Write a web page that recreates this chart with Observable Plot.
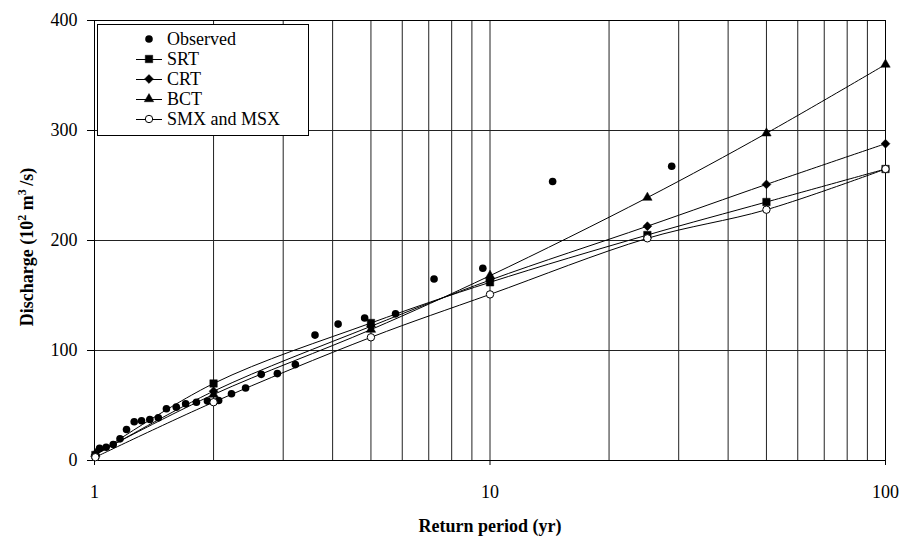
<!DOCTYPE html>
<html>
<head>
<meta charset="utf-8">
<script src="https://cdn.jsdelivr.net/npm/d3@7"></script>
<script src="https://cdn.jsdelivr.net/npm/@observablehq/plot@0.6"></script>
<style>
  html, body { margin: 0; padding: 0; background: #fff; }
  #chart { width: 900px; height: 538px; }
</style>
</head>
<body>
<div id="chart"></div>
<script>
// ---- Data ----
const returnPeriod = [1.005, 2, 5, 10, 25, 50, 100];
const srt = [5, 70, 125, 162, 205, 235, 265];
const crt = [5, 63, 122, 164, 213, 251, 288];
const bct = [6, 60, 119, 168, 239, 297.5, 360];
const smx = [3, 53, 112, 151, 202, 228, 265];

const obsT = [1.03, 1.07, 1.115, 1.16, 1.205, 1.26, 1.315, 1.38, 1.45, 1.52, 1.61, 1.70, 1.81, 1.93,
              2.06, 2.22, 2.41, 2.64, 2.90, 3.22, 3.61, 4.13, 4.82, 5.77, 7.22, 9.59, 14.4, 28.8];
const obsQ = [11, 12, 14.5, 19.7, 28.2, 35.2, 36.1, 37.3, 38.8, 47, 48.5, 51.5, 53, 54,
              54.5, 60.7, 65.9, 78.3, 79, 87.2, 114, 124, 129.5, 133.3, 165, 174.8, 253.6, 267.5];

const xGrid = [1, 2, 3, 4, 5, 6, 7, 8, 9, 10, 20, 30, 40, 50, 60, 70, 80, 90, 100];
const xTicks = [1, 10, 100];
const yTicks = [0, 100, 200, 300, 400];

const seriesNames = ["SRT", "CRT", "BCT", "SMX and MSX"];
const seriesValues = [srt, crt, bct, smx];
const seriesSymbols = ["square", "diamond2", "triangle", "circle"];
const seriesR = [4.2, 4.0, 3.5, 3.7];
const seriesFill = ["black", "black", "black", "white"];

// ---- Build tables ----
const observed = obsT.map((t, i) => ({T: t, Q: obsQ[i]}));
const models = seriesNames.map((name, k) =>
  returnPeriod.map((t, i) => ({series: name, T: t, Q: seriesValues[k][i]})));

const FONT = "'Liberation Serif', 'Times New Roman', serif";

const lineMarks = models.map(d => Plot.line(d, {x: "T", y: "Q", stroke: "black", strokeWidth: 1, curve: "catmull-rom"}));
const dotMarks = models.map((d, k) => Plot.dot(d, {
  x: "T", y: "Q", symbol: () => seriesSymbols[k], r: seriesR[k],
  fill: seriesFill[k], stroke: "black", strokeWidth: k === 3 ? 1 : 0.5
}));

const chart = Plot.plot({
  width: 900,
  height: 538,
  marginLeft: 94,
  marginRight: 15,
  marginTop: 20,
  marginBottom: 78,
  style: {fontFamily: FONT, fontSize: "18px", background: "white", color: "black", overflow: "visible"},
  x: {type: "log", domain: [1, 100]},
  y: {domain: [0, 400]},
  marks: [
    Plot.ruleX(xGrid, {stroke: "#222", strokeWidth: 1}),
    Plot.ruleY(yTicks, {stroke: "#222", strokeWidth: 1}),
    Plot.frame({stroke: "black"}),
    Plot.axisX(xTicks, {tickSize: 5, tickPadding: 20, tickFormat: d => String(d), label: null, fontSize: 18}),
    Plot.axisY(yTicks, {tickSize: 7, tickPadding: 10, tickFormat: d => String(d), label: null, fontSize: 18}),
    ...lineMarks,
    Plot.dot(observed, {x: "T", y: "Q", r: 3.8, fill: "black", stroke: "none"}),
    ...dotMarks
  ]
});

document.getElementById("chart").appendChild(chart);

// ---- Axis titles and legend ----
const svg = d3.select(chart);

svg.append("text")
  .attr("x", 490).attr("y", 532)
  .attr("text-anchor", "middle")
  .attr("font-family", FONT).attr("font-size", 18).attr("font-weight", "bold")
  .attr("fill", "black")
  .text("Return period (yr)");

const yt = svg.append("text")
  .attr("transform", "translate(33,247) rotate(-90)")
  .attr("text-anchor", "middle")
  .attr("font-family", FONT).attr("font-size", 18).attr("font-weight", "bold")
  .attr("fill", "black");
yt.append("tspan").text("Discharge (10");
yt.append("tspan").attr("baseline-shift", "super").attr("font-size", 12).text("2");
yt.append("tspan").text(" m");
yt.append("tspan").attr("baseline-shift", "super").attr("font-size", 12).text("3");
yt.append("tspan").text("\u2009/s)");

const lg = svg.append("g").attr("text-anchor", "start");
lg.append("rect").attr("x", 97.5).attr("y", 24.5).attr("width", 211).attr("height", 111)
  .attr("fill", "white").attr("stroke", "black").attr("stroke-width", 1);

const legendItems = [{name: "Observed", sym: "circleObs"}].concat(
  seriesNames.map((n, k) => ({name: n, sym: seriesSymbols[k], k})));
const symMap = {square: d3.symbolSquare, diamond2: d3.symbolDiamond2, triangle: d3.symbolTriangle, circle: d3.symbolCircle};

legendItems.forEach((it, i) => {
  const cy = 39 + i * 20;
  const g = lg.append("g");
  if (it.sym === "circleObs") {
    g.append("circle").attr("cx", 149).attr("cy", cy).attr("r", 3.8).attr("fill", "black");
  } else {
    g.append("line").attr("x1", 136).attr("x2", 162).attr("y1", cy + 0.5).attr("y2", cy + 0.5)
      .attr("stroke", "black").attr("stroke-width", 1);
    const r = seriesR[it.k];
    g.append("path")
      .attr("transform", `translate(149,${cy})`)
      .attr("d", d3.symbol(symMap[it.sym], Math.PI * r * r)())
      .attr("fill", seriesFill[it.k]).attr("stroke", "black").attr("stroke-width", it.k === 3 ? 1 : 0.5);
  }
  g.append("text").attr("x", 167).attr("y", cy).attr("dy", "0.35em")
    .attr("text-anchor", "start")
    .attr("font-family", FONT).attr("font-size", 18).attr("fill", "black")
    .text(it.name);
});
</script>
</body>
</html>
